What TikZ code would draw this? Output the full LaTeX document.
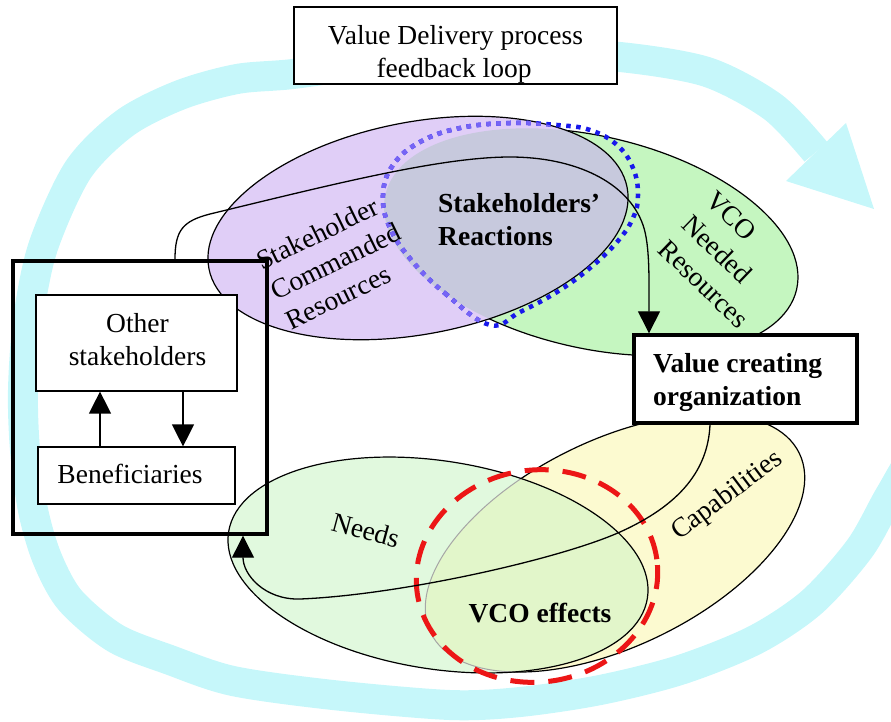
\documentclass[tikz,border=0pt]{standalone}
\usepackage{fontspec}
\setmainfont{Liberation Serif}
\usetikzlibrary{arrows.meta}
\definecolor{loopcyan}{RGB}{198,247,250}
\definecolor{srpurple}{RGB}{224,206,247}
\definecolor{nrgreen}{RGB}{197,246,192}
\definecolor{reactgray}{RGB}{199,201,221}
\definecolor{needgreen}{RGB}{225,249,222}
\definecolor{capyellow}{RGB}{252,250,208}
\definecolor{effgreen}{RGB}{226,246,202}
\definecolor{dotblue}{RGB}{25,25,235}
\definecolor{dotlight}{RGB}{118,100,245}
\definecolor{dashred}{RGB}{236,22,22}
\tikzset{
  lbl/.style={font=\fontsize{27.5}{33}\selectfont, inner sep=0pt},
  blbl/.style={inner sep=0pt, font=\fontsize{27.5}{33}\selectfont\bfseries},
  frame/.style={draw, line width=1.2pt, fill=white, inner sep=0pt},
  thickframe/.style={draw, line width=3.4pt, inner sep=0pt},
  flow/.style={line width=1.3pt, -{Triangle[length=22pt,width=22pt]}},
  rim/.style={line width=1.2pt},
  dots/.style={line width=4.5pt, dash pattern=on 4.5pt off 5.5pt},
}
\begin{document}
\begin{tikzpicture}[x=1pt,y=-1pt]
\useasboundingbox (0,0) rectangle (891,721);
\clip (0,0) rectangle (891,721);

% feedback loop band
\draw[loopcyan, line width=30pt] plot[smooth, tension=0.5] coordinates {
  (990,380) (922,445) (890,495) (860,548) (812,602) (755,640) (680,670) (600,690)
  (520,702) (450,705) (333,695) (233,681) (170,660) (115,638) (70,600)
  (47,558) (33,510) (25,450) (23,390) (28,320) (43,247) (78,170) (125,123)
  (180,95) (237,79) (293,74) (380,62) (460,56) (540,55) (620,57) (707,72)
  (773,107) (816,152)};
\fill[loopcyan] (786,181) -- (846,123) -- (874,209) -- cycle;

% title box
\node[frame, minimum width=323pt, minimum height=77pt] (title) at (455.5,45.5) {};

% resources ellipses and their overlap
\path[fill=nrgreen, draw=black, rim, rotate around={-13:(591,242)}]
  (591,242) ellipse [x radius=211pt, y radius=106pt];
\fill[srpurple, rotate around={11:(418,228)}]
  (418,228) ellipse [x radius=213pt, y radius=106pt];
\begin{scope}
  \clip[rotate around={-13:(591,242)}] (591,242) ellipse [x radius=211pt, y radius=106pt];
  \fill[reactgray, rotate around={11:(418,228)}]
    (418,228) ellipse [x radius=213pt, y radius=106pt];
\end{scope}
\draw[rim, rotate around={11:(418,228)}]
  (418,228) ellipse [x radius=213pt, y radius=106pt];

% dotted outline of the reactions
\draw[dotblue, dots] plot[smooth cycle, tension=0.7] coordinates {
  (490,325) (447,295) (413,262) (390,228) (383,195) (393,165) (420,142)
  (460,128) (510,123) (557,125) (590,130) (617,145) (633,168) (638,195)
  (633,218) (617,242) (590,268) (557,292) (520,312)};
\begin{scope}
  \clip[rotate around={11:(418,228)}] (418,228) ellipse [x radius=213pt, y radius=106pt];
  \draw[dotlight, dots] plot[smooth cycle, tension=0.7] coordinates {
    (490,325) (447,295) (413,262) (390,228) (383,195) (393,165) (420,142)
    (460,128) (510,123) (557,125) (590,130) (617,145) (633,168) (638,195)
    (633,218) (617,242) (590,268) (557,292) (520,312)};
\end{scope}

% needs and capabilities ellipses and their overlap
\path[fill=capyellow, draw=black, rim, rotate around={26:(615,543)}]
  (615,543) ellipse [x radius=205pt, y radius=103pt];
\fill[needgreen, rotate around={-9:(438,565)}]
  (438,565) ellipse [x radius=212pt, y radius=104pt];
\begin{scope}
  \clip[rotate around={-9:(438,565)}] (438,565) ellipse [x radius=212pt, y radius=104pt];
  \path[fill=effgreen, draw=black!35, line width=1pt, rotate around={26:(615,543)}]
    (615,543) ellipse [x radius=205pt, y radius=103pt];
\end{scope}
\draw[rim, rotate around={-9:(438,565)}]
  (438,565) ellipse [x radius=212pt, y radius=104pt];
\draw[dashred, line width=5pt, dash pattern=on 24pt off 14pt, rotate around={8:(537,576)}]
  (537,576) ellipse [x radius=121pt, y radius=106pt];

% boxes
\node[thickframe, minimum width=254pt, minimum height=273pt] (group) at (140,397.5) {};
\node[frame, minimum width=201pt, minimum height=96pt] (other) at (136.5,343) {};
\node[frame, minimum width=197pt, minimum height=57pt] (benef) at (136.5,475.5) {};
\node[thickframe, fill=white, minimum width=223pt, minimum height=88pt] (vco) at (745.5,379) {};

% connectors
\draw[flow] ([xshift=-36.5pt]benef.north) -- ([xshift=-36.5pt]other.south);
\draw[flow] ([xshift=46.5pt]other.south) -- ([xshift=46.5pt]benef.north);
\draw[flow] ([xshift=35pt]group.north) .. controls (175,230) and (183,221) .. (210,214)
  .. controls (330,185) and (440,157) .. (510,157)
  .. controls (575,157) and (628,182) .. (643,225)
  .. controls (650,245) and (649,280) .. ([xshift=-96.5pt]vco.north);
\draw[flow] ([xshift=-35.5pt]vco.south) .. controls (708,470) and (680,505) .. (620,532)
  .. controls (560,559) and (400,595) .. (300,599)
  .. controls (265,600) and (243,575) .. ([xshift=103pt]group.south);

% labels
\node[lbl, anchor=base] (t1) at (455.5,44) {Value Delivery process};
\node[lbl, anchor=base] (t2) at (454,77) {feedback loop};
\node[lbl, anchor=base] (o1) at (137.5,332) {Other};
\node[lbl, anchor=base] (o2) at (137.5,365) {stakeholders};
\node[lbl, anchor=base] (b1) at (130,483) {Beneficiaries};
\node[blbl, anchor=base west] (v1) at (653,372) {Value creating};
\node[blbl, anchor=base west] (v2) at (653,405) {organization};
\node[blbl, anchor=base west] (r1) at (438,212) {Stakeholders'};
\node[blbl, anchor=base west] (r2) at (438,245) {Reactions};
\node[blbl, anchor=base] (e1) at (540,622) {VCO effects};
\node[lbl, anchor=base west, rotate=37] (cap) at (679,541) {Capabilities};
\node[lbl, anchor=base west, rotate=-15] (need) at (330,530) {Needs};
\begin{scope}[shift={(262,271)}, rotate=26]
  \node[lbl, anchor=base west, rotate=26] (s1) at (0,0) {Stakeholder};
  \node[lbl, anchor=base west, rotate=26] (s2) at (0,33) {Commanded};
  \node[lbl, anchor=base west, rotate=26] (s3) at (0,66) {Resources};
\end{scope}
\begin{scope}[shift={(704,202)}, rotate=-44]
  \node[lbl, anchor=base west, rotate=-44] (n1) at (0,0) {VCO};
  \node[lbl, anchor=base west, rotate=-44] (n2) at (0,34) {Needed};
  \node[lbl, anchor=base west, rotate=-44] (n3) at (0,68) {Resources};
\end{scope}
\end{tikzpicture}
\end{document}
